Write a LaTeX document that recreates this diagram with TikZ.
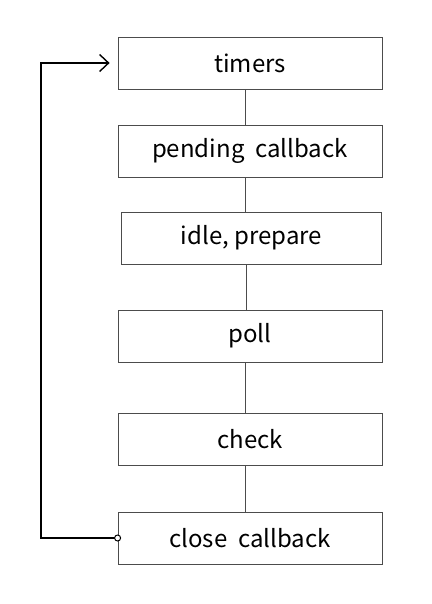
\documentclass[tikz,border=0pt]{standalone}
\usepackage{fontspec}
\setmainfont{Noto Sans CJK SC}
\usetikzlibrary{arrows.meta}

\begin{document}
\begin{tikzpicture}[x=1pt, y=-1pt, every node/.style={draw=black!70, line width=0.8pt, minimum width=264pt, minimum height=52pt, inner sep=0pt, font=\fontsize{24}{28}\selectfont}]
	\useasboundingbox (0,0) rectangle (431,604);
	\node (n1) at (250,63)  {timers};
	\node (n2) at (250,151) {pending\ \ callback};
	\node[minimum width=260pt] (n3) at (251.5,238) {idle, prepare};
	\node (n4) at (250,336) {poll};
	\node (n5) at (250,439) {check};
	\node (n6) at (250,538) {close\ \ callback};
	\foreach \from/\to in {
		n1/n2, n2/n3, n3/n4,
		n4/n5, n5/n6}
	\draw[black!70, line width=0.8pt] ([xshift=-5pt]\from.south) -- ([xshift=-5pt]\from.south |- \to.north);
	\coordinate (c1) at (41,538);
	\coordinate (c2) at (41,63);
	\draw[line width=1.6pt, {Circle[open, fill=white, length=7pt, line width=1pt]}-{Straight Barb[length=9pt, width=17pt, line width=1.4pt]}]
		([xshift=3.5pt]n6.west) -- (c1) -- (c2) -- ([xshift=-8pt]n1.west);
	\end{tikzpicture}
\end{document}
